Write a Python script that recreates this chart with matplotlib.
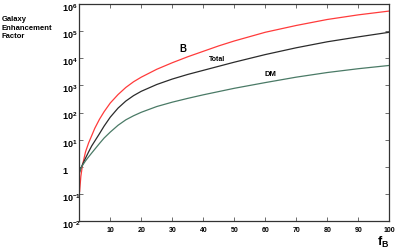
import matplotlib
matplotlib.use("Agg")
import matplotlib.pyplot as plt
from matplotlib.ticker import FixedLocator
import matplotlib.transforms as mtransforms

fB = [0.1, 0.5, 1, 2, 3, 4, 5, 6.5, 8, 10, 12.5, 15, 17.5, 20, 25, 30, 35, 40,
      45, 50, 60, 70, 80, 90, 100]
B = [0.126, 0.447, 1.12, 3.55, 7.59, 14.1, 26.3, 56.2, 107, 224, 457, 832,
     1349, 1995, 3890, 6761, 11220, 17780, 28180, 42660, 89130, 158500,
     263000, 389000, 537000]
Total = [0.661, 0.89, 1.20, 2.09, 3.55, 5.89, 8.91, 16.6, 31.6, 67.6, 145, 263,
         417, 603, 1072, 1698, 2512, 3548, 5012, 7079, 13490, 23990, 39810,
         60260, 89130]
DM = [0.631, 0.871, 1.12, 1.66, 2.34, 3.24, 4.47, 7.24, 11.5, 19.1, 33.9, 53.7,
      75.9, 102, 166, 240, 331, 447, 589, 776, 1259, 1995, 2951, 4074, 5370]

xticks = [10, 20, 30, 40, 50, 60, 70, 80, 90, 100]
yticks = [1e-2, 1e-1, 1, 1e1, 1e2, 1e3, 1e4, 1e5, 1e6]
ylabels = [r'$\mathbf{10^{-2}}$', r'$\mathbf{10^{-1}}$', r'$\mathbf{1}$',
           r'$\mathbf{10^{1}}$', r'$\mathbf{10^{2}}$', r'$\mathbf{10^{3}}$',
           r'$\mathbf{10^{4}}$', r'$\mathbf{10^{5}}$', r'$\mathbf{10^{6}}$']

plt.rcParams['font.family'] = ['Liberation Sans', 'DejaVu Sans']
plt.rcParams['mathtext.fontset'] = 'custom'
plt.rcParams['mathtext.rm'] = 'Liberation Sans'
plt.rcParams['mathtext.bf'] = 'Liberation Sans:bold'

fig = plt.figure(figsize=(3.95, 2.49), dpi=100)
ax = fig.add_axes([79.3/395, 1-221.3/249, (389.3-79.3)/395, (221.3-3.7)/249])

ax.plot(fB, B, color='#ff3b3b', lw=0.9)
ax.plot(fB, Total, color='#2b2b2b', lw=0.9)
ax.plot(fB, DM, color='#4a7a66', lw=0.9)

ax.set_yscale('log')
ax.set_xlim(0, 100)
ax.set_ylim(1e-2, 1e6)
ax.xaxis.set_major_locator(FixedLocator(xticks))
ax.set_xticklabels([str(t) for t in xticks], fontsize=5, fontweight='bold')
ax.yaxis.set_major_locator(FixedLocator(yticks))
ax.yaxis.set_minor_locator(FixedLocator([]))
ax.set_yticklabels(ylabels, fontsize=6.5)
ax.tick_params(direction='in', length=3, width=0.6, top=True, right=True,
               color='#555555', pad=4)
ax.tick_params(axis='x', pad=4)
off = mtransforms.ScaledTranslation(-12/100, -3/100, fig.dpi_scale_trans)
for lab in ax.get_yticklabels():
    lab.set_horizontalalignment('left')
    lab.set_transform(lab.get_transform() + off)
for s in ax.spines.values():
    s.set_linewidth(0.9)
    s.set_color('#333333')

ax.text(33.4, 10**4.32, 'B', fontsize=7, fontweight='bold', ha='center', va='center')
ax.text(44.6, 10**3.96, 'Total', fontsize=5, fontweight='bold', ha='center', va='center')
ax.text(61.5, 10**3.38, 'DM', fontsize=5.5, fontweight='bold', ha='center', va='center')

fig.text(2/395, 1-16/249, 'Galaxy\nEnhancement\nFactor', fontsize=5.5,
         fontweight='bold', ha='left', va='top', linespacing=1.35)
fig.text(383/395, 1-242/249, r'$\mathbf{f_{B}}$', fontsize=9, ha='center', va='center')

fig.savefig('out.png', dpi=100)
